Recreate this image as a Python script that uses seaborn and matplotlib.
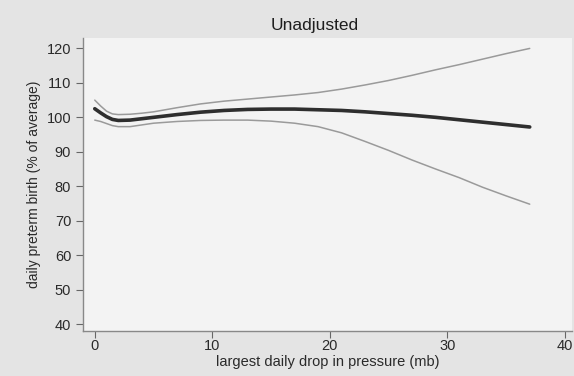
import numpy as np
import pandas as pd
import seaborn as sns
import matplotlib
matplotlib.use("Agg")
import matplotlib.pyplot as plt

# values
drop_mb = [0, 0.5, 1, 1.5, 2, 3, 4, 5, 7, 9, 11, 13, 15, 17, 19, 21, 23, 25, 27, 29, 31, 33, 35, 37]
estimate = [102.5, 101.3, 100.2, 99.4, 99.1, 99.2, 99.6, 100.0, 100.8, 101.5, 102.0, 102.3,
            102.4, 102.4, 102.2, 102.0, 101.6, 101.1, 100.6, 100.0, 99.3, 98.6, 97.9, 97.2]
upper = [105.0, 103.3, 101.8, 101.0, 100.8, 100.9, 101.2, 101.6, 102.8, 103.9, 104.7, 105.3,
         105.9, 106.5, 107.2, 108.2, 109.4, 110.7, 112.2, 113.8, 115.3, 116.9, 118.5, 120.0]
lower = [99.2, 98.8, 98.2, 97.6, 97.3, 97.3, 97.8, 98.3, 98.8, 99.1, 99.2, 99.2,
         98.9, 98.3, 97.3, 95.5, 93.0, 90.4, 87.6, 85.0, 82.5, 79.7, 77.2, 74.8]
y_ticks = [40, 50, 60, 70, 80, 90, 100, 110, 120]
x_ticks = [0, 10, 20, 30, 40]

df = pd.DataFrame({"drop": drop_mb, "est": estimate, "hi": upper, "lo": lower})

sns.set_style("white")
plt.rcParams['font.family'] = ['Liberation Sans', 'DejaVu Sans']

fig = plt.figure(figsize=(5.74, 3.76), dpi=100, facecolor='#e4e4e4')
ax = fig.add_axes([0.1446, 0.1197, 0.852, 0.779])
ax.set_facecolor('#f3f3f3')

sns.lineplot(data=df, x="drop", y="hi", ax=ax, color='#9a9a9a', linewidth=1.1)
sns.lineplot(data=df, x="drop", y="lo", ax=ax, color='#9a9a9a', linewidth=1.1)
sns.lineplot(data=df, x="drop", y="est", ax=ax, color='#2e2e2e', linewidth=2.6)

ax.set_xlim(-1.0, 40.6)
ax.set_ylim(38, 123)
ax.set_xticks(x_ticks)
ax.set_yticks(y_ticks)
ax.tick_params(axis='both', direction='out', length=5, width=0.8, color='#666666',
               labelsize=10.5, labelcolor='#2a2a2a', left=True, bottom=True)
ax.tick_params(axis='x', pad=1)

for side in ['top', 'right']:
    ax.spines[side].set_visible(False)
for side in ['left', 'bottom']:
    ax.spines[side].set_color('#888888')
    ax.spines[side].set_linewidth(1.0)

ax.set_xlabel("largest daily drop in pressure (mb)", fontsize=10.5, color='#2a2a2a', labelpad=1)
ax.set_ylabel("daily preterm birth (% of average)", fontsize=10, color='#2a2a2a', labelpad=4)
fig.text(0.549, 0.933, "Unadjusted", ha='center', va='center', fontsize=12.5, color='#1e1e1e')

fig.savefig("out.png", dpi=100, facecolor=fig.get_facecolor())
